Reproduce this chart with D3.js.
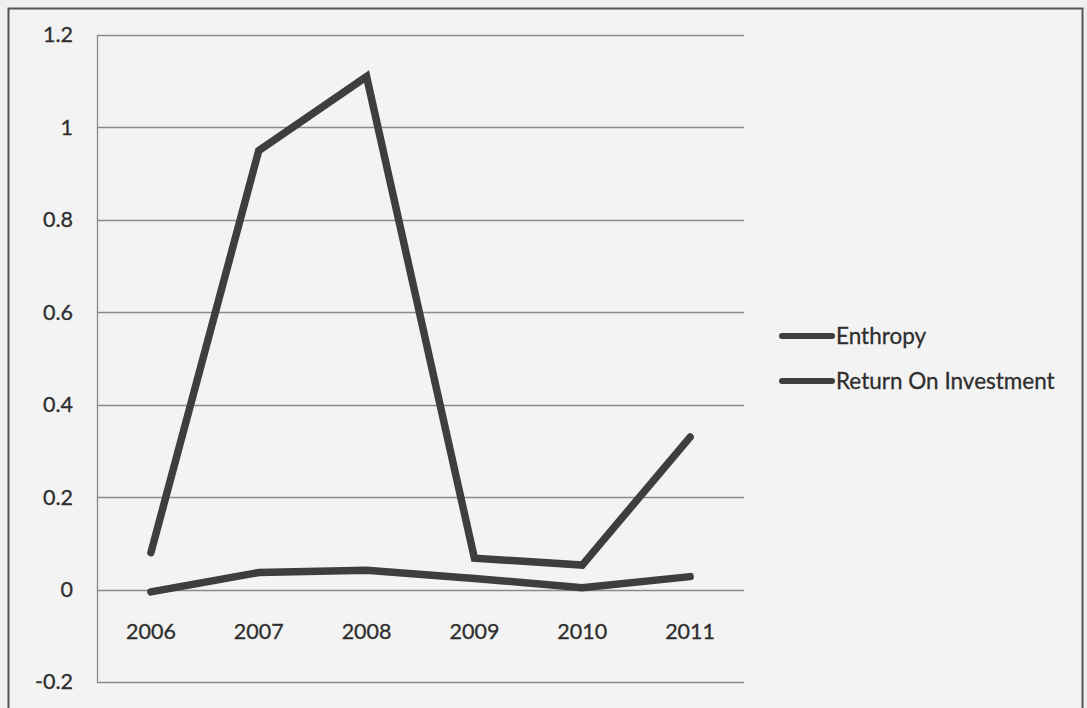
<!DOCTYPE html>
<html>
<head>
<meta charset="utf-8">
<script src="https://cdn.jsdelivr.net/npm/d3@7"></script>
<style>
html,body{margin:0;padding:0;background:#f1f1f1;}
svg{display:block;}
text{font-family:Lato,"Open Sans",sans-serif;fill:#2e2e2e;}
</style>
</head>
<body>
<svg id="chart" width="1087" height="708"></svg>
<script>
const categories = ["2006","2007","2008","2009","2010","2011"];
const enthropy = [0.08, 0.95, 1.11, 0.068, 0.053, 0.33];
const roi = [-0.005, 0.037, 0.042, 0.024, 0.004, 0.028];
const yTicks = [-0.2, 0, 0.2, 0.4, 0.6, 0.8, 1, 1.2];
const yTickLabels = ["-0.2", "0", "0.2", "0.4", "0.6", "0.8", "1", "1.2"];
const seriesNames = ["Enthropy", "Return On Investment"];

const svg = d3.select("#chart");
const W = 1087, H = 708;
const plot = {left: 97, right: 744, top: 35, bottom: 682};
const FS = 21.5;

svg.append("rect").attr("x", 0).attr("y", 0).attr("width", W).attr("height", H).attr("fill", "#efefef");
svg.append("rect").attr("x", 8.5).attr("y", 8.5).attr("width", 1074).attr("height", 710)
  .attr("fill", "#f3f3f3").attr("stroke", "#555").attr("stroke-width", 2);

const x = d3.scaleBand().domain(categories).range([plot.left, plot.right]);
const y = d3.scaleLinear().domain([-0.2, 1.2]).range([plot.bottom, plot.top]);

// gridlines
svg.append("g").selectAll("line").data(yTicks).join("line")
  .attr("x1", plot.left).attr("x2", plot.right)
  .attr("y1", d => Math.round(y(d)) + 0.5).attr("y2", d => Math.round(y(d)) + 0.5)
  .attr("stroke", "#8a8a8a").attr("stroke-width", 1.3);

svg.append("line").attr("x1", plot.left + 0.5).attr("x2", plot.left + 0.5)
  .attr("y1", plot.top).attr("y2", plot.bottom)
  .attr("stroke", "#8a8a8a").attr("stroke-width", 1.3);

// y axis labels
const yAxis = d3.axisLeft(y).tickValues(yTicks).tickSize(0).tickPadding(0)
  .tickFormat((d, i) => yTickLabels[i]);
const gy = svg.append("g").attr("transform", `translate(73,0)`).call(yAxis);
gy.select(".domain").remove();
gy.selectAll("text").attr("font-size", FS).attr("font-family", "Lato").attr("fill", "#2e2e2e")
  .attr("stroke", "#2e2e2e").attr("stroke-width", 0.3);

// x labels
const xAxis = d3.axisBottom(x).tickSize(0).tickPadding(0);
const gx = svg.append("g").attr("transform", `translate(0,${y(0) + 34})`).call(xAxis);
gx.select(".domain").remove();
gx.selectAll("text").attr("font-size", FS).attr("font-family", "Lato").attr("fill", "#2e2e2e")
  .attr("stroke", "#2e2e2e").attr("stroke-width", 0.3);

const line = d3.line().x((d, i) => x(categories[i]) + x.bandwidth() / 2).y(d => y(d));

[enthropy, roi].forEach(s => {
  svg.append("path").datum(s).attr("d", line)
    .attr("fill", "none").attr("stroke", "#3e3e3e").attr("stroke-width", 7.5)
    .attr("stroke-linejoin", "miter").attr("stroke-linecap", "round");
});

// legend
const legY = [336, 381];
seriesNames.forEach((n, i) => {
  svg.append("line").attr("x1", 782).attr("x2", 832).attr("y1", legY[i]).attr("y2", legY[i])
    .attr("stroke", "#3e3e3e").attr("stroke-width", 6).attr("stroke-linecap", "round");
  svg.append("text").attr("x", 836).attr("y", legY[i] + 8).attr("font-size", 22.5)
    .attr("stroke", "#2e2e2e").attr("stroke-width", 0.3).text(n);
});
</script>
</body>
</html>
